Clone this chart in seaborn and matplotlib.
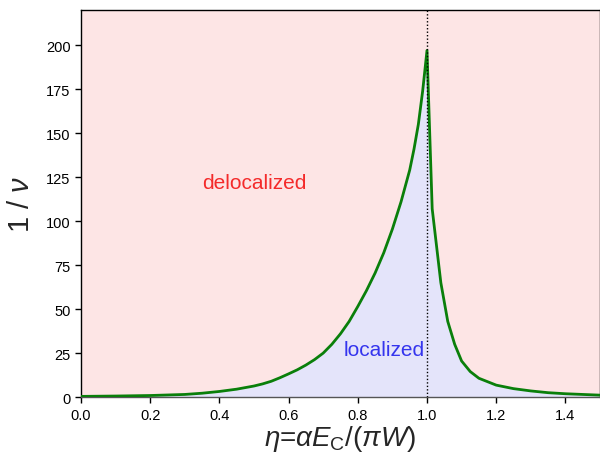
import matplotlib
matplotlib.use("Agg")
import matplotlib.pyplot as plt
import seaborn as sns
import pandas as pd

eta = [0.0, 0.1, 0.2, 0.3, 0.35, 0.4, 0.45, 0.5, 0.525, 0.55, 0.575, 0.6, 0.625,
       0.65, 0.675, 0.7, 0.725, 0.75, 0.775, 0.8, 0.825, 0.85, 0.875, 0.9,
       0.925, 0.95, 0.9625, 0.975, 0.9875, 1.0,
       1.015, 1.04, 1.06, 1.08, 1.1, 1.125, 1.15, 1.2, 1.25, 1.3, 1.35, 1.4,
       1.45, 1.5]
inv_nu = [0.4, 0.6, 0.9, 1.5, 2.2, 3.2, 4.5, 6.3, 7.5, 9.0, 11.0, 13.2, 15.5,
          18.2, 21.3, 25.0, 30.0, 36.0, 43.0, 51.5, 60.5, 70.5, 82.0, 95.5,
          111.0, 129.0, 141.0, 155.0, 174.0, 197.0,
          107.0, 65.0, 43.0, 30.0, 20.5, 14.5, 10.7, 6.8, 4.8, 3.5, 2.5, 1.9,
          1.5, 1.1]
xticks = [0.0, 0.2, 0.4, 0.6, 0.8, 1.0, 1.2, 1.4]
yticks = [0, 25, 50, 75, 100, 125, 150, 175, 200]

df = pd.DataFrame({"eta": eta, "inv_nu": inv_nu})

sns.set_style("ticks")
plt.rcParams["font.family"] = ["Liberation Sans", "DejaVu Sans"]
plt.rcParams["mathtext.fontset"] = "custom"
plt.rcParams["mathtext.rm"] = "Liberation Sans"
plt.rcParams["mathtext.it"] = "Liberation Sans:italic"

fig = plt.figure(figsize=(6, 4.56), dpi=100)
ax = fig.add_axes([0.135, 0.127, 0.865, 0.849])
ax.set_facecolor("#fde5e5")
ax.fill_between(df["eta"], 0, df["inv_nu"], color="#e4e4fa", lw=0, zorder=1)
sns.lineplot(data=df, x="eta", y="inv_nu", ax=ax, color="#0a7f0a", lw=2, zorder=3)
ax.axvline(1.0, color="black", ls=(0, (1, 1.5)), lw=1, zorder=4)

ax.text(0.5, 122, "delocalized", color="#f42a2a", fontsize=15, ha="center", va="center")
ax.text(0.876, 27, "localized", color="#3434ee", fontsize=15, ha="center", va="center")

ax.set_xlim(0, 1.5)
ax.set_ylim(0, 220)
ax.set_xticks(xticks)
ax.set_xticklabels([f"{t:.1f}" for t in xticks])
ax.set_yticks(yticks)
ax.tick_params(labelsize=10.5, length=4, width=1, colors="black")
ax.set_xlabel(r"$\eta$=$\alpha E_{\rm C}$/($\pi W$)", fontsize=20, labelpad=1)
ax.set_ylabel(r"1 / $\nu$", fontsize=21, labelpad=8)
for s in ax.spines.values():
    s.set_color("black")
    s.set_linewidth(1)
ax.spines["bottom"].set_color("#555555")

fig.savefig("out.png", dpi=100)
